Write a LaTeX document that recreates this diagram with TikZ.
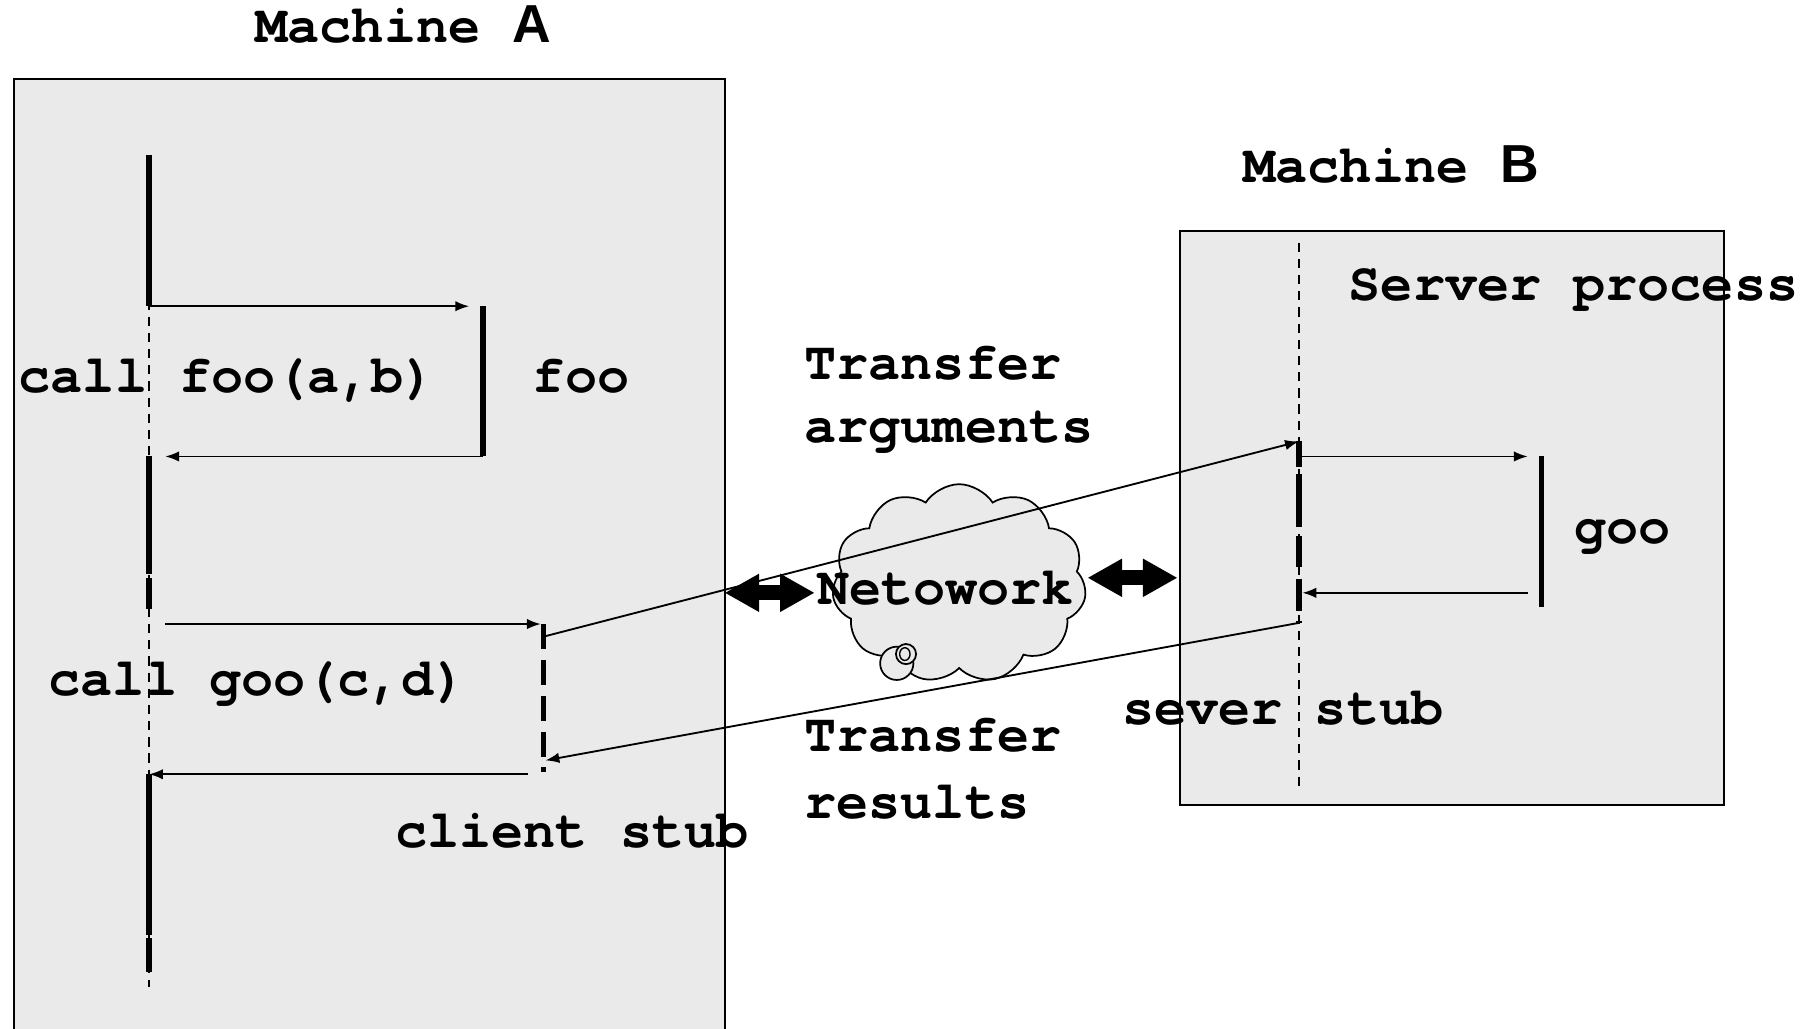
\documentclass[tikz,border=0pt]{standalone}
\usepackage{fontspec}
\setmainfont{TeX Gyre Cursor}
\newfontfamily\sansAB{Liberation Sans}
\usetikzlibrary{arrows.meta,shapes.symbols}
\definecolor{boxgray}{HTML}{EAEAEA}
\begin{document}
\begin{tikzpicture}[x=1pt,y=-1pt,
  lbl/.style={anchor=base west,inner sep=0,font=\fontsize{46.3}{54}\selectfont\bfseries},
  thinarrow/.style={line width=1.6pt,-{Latex[length=12pt,width=9pt]}},
  actbar/.style={line width=4.5pt},
  lifeline/.style={line width=1.5pt,dash pattern=on 8pt off 6pt},
  stubline/.style={line width=4.5pt,dash pattern=on 22pt off 9pt},
  machbox/.style={draw,line width=1.6pt,fill=boxgray},
  dblarrow/.style={line width=13pt,{Triangle[length=30pt,width=31pt]}-{Triangle[length=30pt,width=31pt]}}]
\useasboundingbox (0,0) rectangle (1568,890);
% Machine A box (runs past bottom)
\fill[boxgray] (12,68) rectangle (627,900);
\draw[line width=1.6pt] (12,900) -- (12,68) -- (627,68) -- (627,900);
% Machine B box
\node[machbox,anchor=north west,minimum width=471pt,minimum height=497pt,inner sep=0] (boxB) at (1020,199) {};
% cloud
\node[cloud,cloud puffs=11,cloud puff arc=115,aspect=1.25,draw,fill=boxgray,line width=1.5pt,minimum width=220pt,minimum height=172pt,inner sep=0] (cloud) at (830,505) {};
\draw[line width=1.5pt,fill=boxgray] (776,574) circle (14.4);
\draw[line width=1.5pt,fill=boxgray] (784,566) circle (8.7);
\draw[line width=1.2pt] (783,566) ellipse (4.5 and 5.5);
% coordinates on lifelines
\coordinate (A0) at (129,134);
\coordinate (A1) at (129,265);
\coordinate (A2) at (129,395);
\coordinate (A2r) at (143,395);
\coordinate (A3) at (129,527);
\coordinate (A3s) at (143,540);
\coordinate (A4) at (129,670);
\coordinate (A5) at (129,841);
\coordinate (A6) at (129,854);
\coordinate (F0) at (418,265);
\coordinate (F1) at (418,395);
\coordinate (F0t) at (406,265);
\coordinate (C0) at (470,540);
\coordinate (C1) at (470,668);
\coordinate (C0t) at (468,540);
\coordinate (Cout) at (470,551);
\coordinate (Cin) at (472,658);
\coordinate (C1s) at (457,670);
\coordinate (S0) at (1124,210);
\coordinate (S1) at (1124,382);
\coordinate (S1a) at (1124,395);
\coordinate (S2) at (1124,539);
\coordinate (S2r) at (1127,513);
\coordinate (S3) at (1124,683);
\coordinate (G0) at (1334,395);
\coordinate (G1) at (1334,525);
\coordinate (G0t) at (1322,395);
\coordinate (G1s) at (1322,513);
\coordinate (NL0) at (627,513);
\coordinate (NL1) at (705,513);
\coordinate (NR0) at (941,500);
\coordinate (NR1) at (1019,500);
% lifeline A
\draw[lifeline] (A0) -- (A6);
\draw[actbar] (A0) -- (A1);
\draw[actbar] (A2) -- (129,497);
\draw[actbar] (129,500) -- (A3);
\draw[actbar] (A4) -- (129,809);
\draw[actbar] (129,812) -- (A5);
% foo
\draw[actbar] (F0) -- (F1);
\draw[thinarrow] (A1) -- (F0t);
\draw[line width=1.6pt] (F1) -- (F0 |- F1);
\draw[thinarrow] (F1) -- (A2r);
% client stub
\draw[stubline] (C0) -- (C1);
\draw[thinarrow] (A3s) -- (C0t);
\draw[thinarrow] (C1s) -- (A4);
% server lifeline
\draw[lifeline] (S0) -- (S3);
\draw[line width=4.5pt,dash pattern=on 22pt off 6pt on 46pt off 8pt on 27pt off 10pt on 28pt off 8pt] (S1) -- (S2);
% goo
\draw[actbar] (G0) -- (G1);
\draw[thinarrow] (S1a) -- (G0t);
\draw[thinarrow] (G1s) -- (S2r);
% transfers
\draw[thinarrow] (Cout) -- (S1);
\draw[thinarrow] (S2) -- (Cin);
% network double arrows
\draw[dblarrow] (NL0) -- (NL1);
\draw[dblarrow] (NR0) -- (NR1);
% texts
\node[lbl] (tA) at (221,37) {Machine \sansAB A};
\node[lbl] (tB) at (1076,158) {Machine \sansAB B};
\node[lbl] (tfooc) at (16,340) {call foo(a,b)};
\node[lbl] (tfoo) at (461,340) {foo};
\node[lbl] (tgooc) at (42,602) {call goo(c,d)};
\node[lbl] (tcs) at (342,733) {client stub};
\node[lbl] (tta1) at (696,328) {Transfer};
\node[lbl] (tta2) at (696,383) {arguments};
\node[lbl] (tnet) at (707,523) {Netowork};
\node[lbl] (ttr1) at (696,650) {Transfer};
\node[lbl] (ttr2) at (696,708) {results};
\node[lbl] (tsp) at (1167,260) {Server process};
\node[lbl] (tgoo) at (1362,470) {goo};
\node[lbl] (tss) at (971,627) {sever stub};
\end{tikzpicture}
\end{document}
